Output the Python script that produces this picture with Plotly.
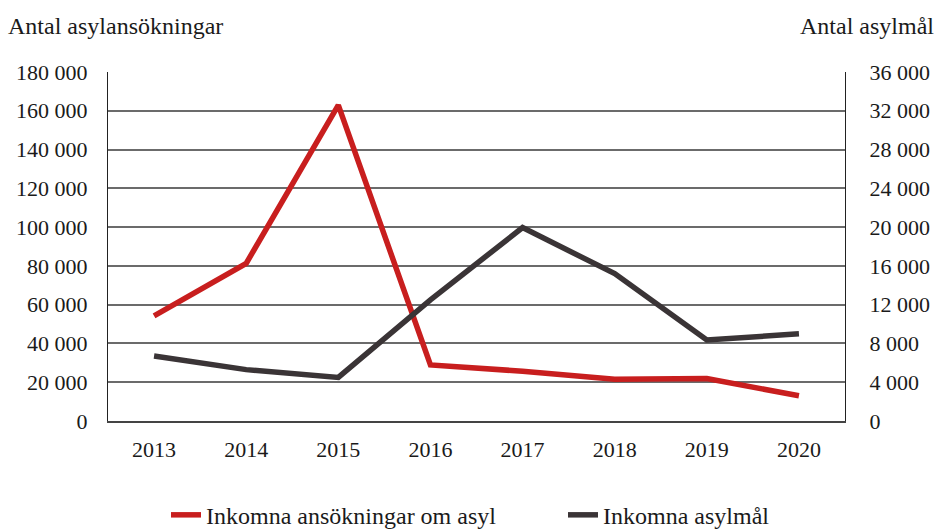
import plotly.graph_objects as go

years = ["2013", "2014", "2015", "2016", "2017", "2018", "2019", "2020"]
ansokningar = [54259, 81301, 162877, 28939, 25666, 21502, 21958, 12991]
asylmal = [6700, 5300, 4500, 12500, 19950, 15200, 8350, 9000]

FONT = "Liberation Serif"
TXT = "#1a1a1a"
RED = "#c81e1e"
DARK = "#3a3436"

fig = go.Figure()
fig.add_trace(go.Scatter(x=years, y=ansokningar, mode="lines", name="Inkomna ansökningar om asyl",
                         line=dict(color=RED, width=5.5), yaxis="y", legend="legend"))
fig.add_trace(go.Scatter(x=years, y=asylmal, mode="lines", name="Inkomna asylmål",
                         line=dict(color=DARK, width=5.5), yaxis="y2", legend="legend2"))

W, H = 935, 529
L, R, T, B = 108, 90, 71.5, 107.5
pw, ph = W - L - R, H - T - B
leg_y = -(516 - (H - B)) / ph
leg_font = dict(family=FONT, size=24, color=TXT)

fig.update_layout(
    width=W, height=H,
    margin=dict(l=L, r=R, t=T, b=B, autoexpand=False),
    paper_bgcolor="white", plot_bgcolor="white",
    separators=", ",
    font=dict(family=FONT, size=22, color=TXT),
    showlegend=True,
    legend=dict(orientation="h", x=(166 - L) / pw, xanchor="left", y=leg_y,
                yanchor="middle", font=leg_font, bgcolor="rgba(0,0,0,0)"),
    legend2=dict(orientation="h", x=(563 - L) / pw, xanchor="left", y=leg_y,
                 yanchor="middle", font=leg_font, bgcolor="rgba(0,0,0,0)"),
    xaxis=dict(type="category", range=[-0.5, 7.5], showgrid=False, showline=True,
               linecolor="#444444", linewidth=1.5, mirror=False, ticks="",
               ticklabelstandoff=8, automargin=False,
               tickfont=dict(family=FONT, size=22, color=TXT)),
    yaxis=dict(range=[0, 180000], dtick=20000, tickformat=",d", showgrid=True,
               gridcolor="#6b6b6b", gridwidth=1.5, showline=True, linecolor="#222222",
               linewidth=1, mirror=True, ticks="", ticklabelstandoff=15, zeroline=False,
               automargin=False, tickfont=dict(family=FONT, size=22, color=TXT)),
    yaxis2=dict(range=[0, 36000], dtick=4000, tickformat=",d", overlaying="y", side="right",
                showgrid=False, showline=True, linecolor="#222222", linewidth=1,
                ticks="outside", ticklen=19, tickcolor="rgba(0,0,0,0)",
                zeroline=False, automargin=False, ticklabeloverflow="allow",
                tickfont=dict(family=FONT, size=22, color=TXT)),
    annotations=[
        dict(text="Antal asylansökningar", xref="paper", yref="paper", x=(6 - L) / pw,
             xanchor="left", y=1 + 46 / ph, yanchor="middle", showarrow=False,
             font=dict(family=FONT, size=24, color=TXT)),
        dict(text="Antal asylmål", xref="paper", yref="paper", x=(936 - L) / pw,
             xanchor="right", y=1 + 46 / ph, yanchor="middle", showarrow=False,
             font=dict(family=FONT, size=24, color=TXT)),
    ],
)

fig.write_html("out.html", config={"displayModeBar": False},
               post_script="document.body.style.margin='0';")
